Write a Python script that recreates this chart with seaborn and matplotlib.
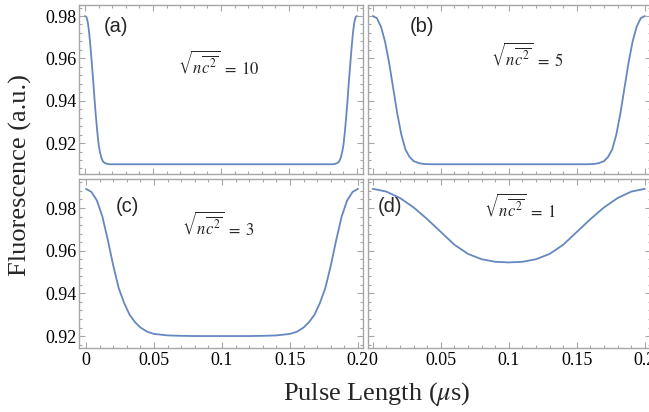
import numpy as np
import pandas as pd
import matplotlib
matplotlib.use('Agg')
import matplotlib.pyplot as plt
import seaborn as sns
from matplotlib.ticker import MultipleLocator

sns.set_style('ticks')
plt.rcParams['font.family'] = ['Liberation Serif', 'DejaVu Serif']
plt.rcParams['mathtext.fontset'] = 'stix'

###############################################################################
# values (pulse length in us, fluorescence in a.u.)
###############################################################################
a_t = [0, 0.001, 0.002, 0.003, 0.004, 0.005, 0.006, 0.007, 0.008, 0.009, 0.010,
       0.011, 0.012, 0.013, 0.014, 0.016, 0.018, 0.02, 0.1, 0.18, 0.182, 0.184,
       0.186, 0.187, 0.188, 0.189, 0.19, 0.191, 0.192, 0.193, 0.194, 0.195,
       0.196, 0.197, 0.198, 0.199, 0.2]
a_y = [0.980, 0.9795, 0.977, 0.972, 0.965, 0.957, 0.949, 0.940, 0.932, 0.925, 0.919,
       0.9155, 0.913, 0.9115, 0.9108, 0.9102, 0.9100, 0.910, 0.910, 0.910, 0.9100,
       0.9102, 0.9108, 0.9115, 0.913, 0.9155, 0.919, 0.925, 0.932, 0.940, 0.949,
       0.957, 0.965, 0.972, 0.977, 0.9795, 0.980]

b_t = [0, 0.003, 0.006, 0.009, 0.012, 0.015, 0.018, 0.021, 0.024, 0.027, 0.030,
       0.034, 0.038, 0.044, 0.05, 0.1, 0.15, 0.156, 0.162, 0.166, 0.17, 0.173,
       0.176, 0.179, 0.182, 0.185, 0.188, 0.191, 0.194, 0.197, 0.2]
b_y = [0.980, 0.979, 0.975, 0.968, 0.958, 0.946, 0.934, 0.924, 0.917, 0.9135, 0.9115,
       0.9105, 0.9101, 0.9100, 0.910, 0.910, 0.910, 0.9100, 0.9101, 0.9105, 0.9115,
       0.9135, 0.917, 0.924, 0.934, 0.946, 0.958, 0.968, 0.975, 0.979, 0.980]

c_t = [0, 0.004, 0.008, 0.012, 0.016, 0.020, 0.024, 0.028, 0.032, 0.036, 0.040,
       0.045, 0.050, 0.060, 0.070, 0.080, 0.1, 0.12, 0.13, 0.14, 0.15, 0.155,
       0.16, 0.164, 0.168, 0.172, 0.176, 0.18, 0.184, 0.188, 0.192, 0.196, 0.2]
c_y = [0.989, 0.9875, 0.9835, 0.976, 0.965, 0.953, 0.9425, 0.9355, 0.930, 0.9265, 0.924,
       0.922, 0.921, 0.9203, 0.9201, 0.920, 0.920, 0.920, 0.9201, 0.9203, 0.921, 0.922,
       0.924, 0.9265, 0.930, 0.9355, 0.9425, 0.953, 0.965, 0.976, 0.9835, 0.9875, 0.989]

d_t = [0, 0.01, 0.02, 0.03, 0.04, 0.05, 0.06, 0.07, 0.08, 0.09, 0.1,
       0.11, 0.12, 0.13, 0.14, 0.15, 0.16, 0.17, 0.18, 0.19, 0.2]
d_y = [0.989, 0.9877, 0.9847, 0.9803, 0.9748, 0.9688, 0.9628, 0.9585, 0.9560, 0.9548, 0.9545,
       0.9548, 0.9560, 0.9585, 0.9628, 0.9688, 0.9748, 0.9803, 0.9847, 0.9877, 0.989]

panel_tags = ['(a)', '(b)', '(c)', '(d)']
nc_values = ['10', '5', '3', '1']

###############################################################################
# figure
###############################################################################
W, H = 649, 412
fig = plt.figure(figsize=(W / 100, H / 100), dpi=100)

def px_axes(l, t, r, b):
    return fig.add_axes([l / W, 1 - b / H, (r - l) / W, (b - t) / H])

blue = '#6488bf'
frame = '#a6a6a6'

boxes = [(79, 5, 363, 174), (368, 5, 651, 174), (79, 179, 363, 348), (368, 179, 651, 348)]
series = [(a_t, a_y), (b_t, b_y), (c_t, c_y), (d_t, d_y)]
ylims = [(0.9054, 0.9852), (0.9054, 0.9852), (0.9144, 0.9936), (0.9144, 0.9936)]
xlims = [(-0.0045, 0.2044), (-0.0035, 0.2045), (-0.0052, 0.2037), (-0.0035, 0.2045)]
tag_pos = [(116, 27), (422, 26), (127, 207), (390, 207)]
nc_pos = [(219, 64), (527, 56), (218, 225), (520, 207)]

for i, ((t, y), box) in enumerate(zip(series, boxes)):
    ax = px_axes(*box)
    df = pd.DataFrame({'t': t, 'F': y})
    sns.lineplot(data=df, x='t', y='F', ax=ax, color=blue, lw=1.3, estimator=None)
    ax.set_xlim(*xlims[i])
    ax.set_ylim(*ylims[i])
    ax.set_xlabel('')
    ax.set_ylabel('')
    ax.xaxis.set_major_locator(MultipleLocator(0.05))
    ax.xaxis.set_minor_locator(MultipleLocator(0.01))
    ax.yaxis.set_major_locator(MultipleLocator(0.02))
    ax.yaxis.set_minor_locator(MultipleLocator(0.004))
    ax.xaxis.set_major_formatter(plt.FuncFormatter(lambda v, p: '0' if abs(v) < 1e-9 else ('%g' % round(v, 3))))
    ax.tick_params(which='both', direction='in', top=True, right=True, color=frame,
                   width=0.8, labelsize=13, labelcolor='black')
    ax.tick_params(which='major', length=4, pad=3)
    ax.tick_params(which='minor', length=2)
    ax.tick_params(axis='y', pad=2)
    for s in ax.spines.values():
        s.set_color(frame)
        s.set_linewidth(1.0)
    if i in (0, 1):
        ax.tick_params(labelbottom=False)
    if i in (1, 3):
        ax.tick_params(labelleft=False)
    ax.set_facecolor('white')
    fig.text(tag_pos[i][0] / W, 1 - tag_pos[i][1] / H, panel_tags[i], family='Liberation Sans',
             fontsize=14.5, ha='center', va='center')
    fig.text(nc_pos[i][0] / W, 1 - nc_pos[i][1] / H,
             r'$\sqrt{n\overline{c^{2}}}\;=\;$' + r'$' + nc_values[i] + r'$',
             fontsize=12, ha='center', va='center')

fig.text(20 / W, 1 - 175 / H, 'Fluorescence (a.u.)', rotation=90, fontsize=19,
         ha='center', va='center')
fig.text(377 / W, 1 - 394 / H, r'Pulse Length ($\mu$s)', fontsize=19,
         ha='center', va='center')

fig.savefig('out.png', dpi=100)
